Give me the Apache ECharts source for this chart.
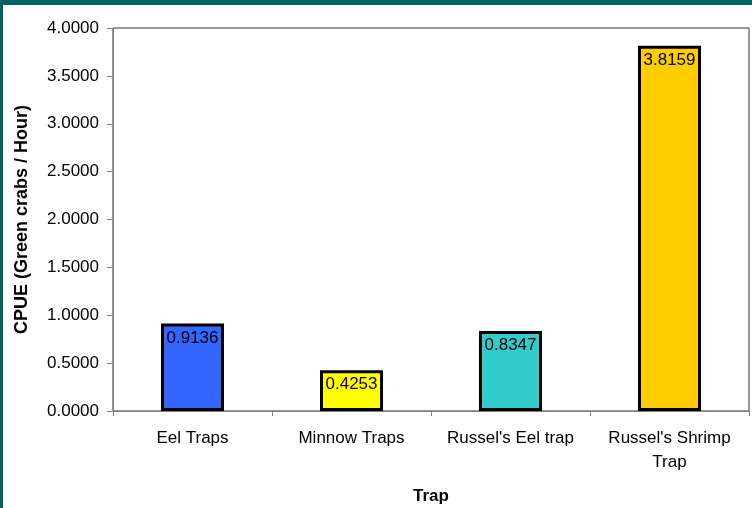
<!DOCTYPE html>
<html>
<head>
<meta charset="utf-8">
<script src="https://cdn.jsdelivr.net/npm/echarts@6/dist/echarts.min.js"></script>
<style>
html,body{margin:0;padding:0;background:#fff;}
#chart{width:752px;height:508px;}
</style>
</head>
<body>
<div id="chart"></div>
<script>
const categories = ["Eel Traps", "Minnow Traps", "Russel's Eel trap", "Russel's Shrimp\nTrap"];
const cpueValues = [0.9136, 0.4253, 0.8347, 3.8159];
const barColors = ["#3366FF", "#FFFF00", "#33CCCC", "#FFCC00"];
const yTicks = { min: 0, max: 4, interval: 0.5 };

const chart = echarts.init(document.getElementById('chart'));
const font = 'Liberation Sans, Arial, sans-serif';
chart.setOption({
  backgroundColor: '#ffffff',
  animation: false,
  graphic: [
    { type: 'rect', left: 0, top: 0, shape: { width: 752, height: 5 }, style: { fill: '#03625f' }, z: 100 },
    { type: 'rect', left: 0, top: 0, shape: { width: 3, height: 508 }, style: { fill: '#03625f' }, z: 100 }
  ],
  grid: {
    left: 113, top: 28, right: 3, bottom: 97,
    containLabel: false, outerBoundsMode: 'none',
    show: true, borderColor: '#333333', borderWidth: 1, backgroundColor: 'transparent'
  },
  xAxis: {
    type: 'category',
    data: categories,
    name: 'Trap',
    nameLocation: 'middle',
    nameGap: 77,
    nameTextStyle: { fontFamily: font, fontSize: 17, fontWeight: 'bold', color: '#000' },
    axisLine: { lineStyle: { color: '#808080', width: 1 } },
    axisTick: { show: true, length: 5, alignWithLabel: false, lineStyle: { color: '#808080' } },
    axisLabel: { fontFamily: font, fontSize: 17, color: '#000', margin: 15, lineHeight: 24, interval: 0 }
  },
  yAxis: {
    type: 'value',
    min: yTicks.min, max: yTicks.max, interval: yTicks.interval,
    name: 'CPUE (Green crabs / Hour)',
    nameLocation: 'middle',
    nameGap: 82,
    nameTextStyle: { fontFamily: font, fontSize: 18, fontWeight: 'bold', color: '#000' },
    axisLine: { show: true, lineStyle: { color: '#808080', width: 1 } },
    axisTick: { show: true, length: 6, lineStyle: { color: '#808080' } },
    splitLine: { show: false },
    axisLabel: { fontFamily: font, fontSize: 17, color: '#000', margin: 14,
      formatter: v => v.toFixed(4) }
  },
  series: [{
    type: 'bar',
    barWidth: 63,
    data: cpueValues.map((v, i) => ({
      value: v,
      itemStyle: { color: barColors[i], borderColor: '#000', borderWidth: 3 }
    })),
    label: {
      show: true, position: 'insideTop', distance: 6,
      fontFamily: font, fontSize: 17, color: '#000',
      formatter: p => p.value.toFixed(4)
    }
  }]
});
</script>
</body>
</html>
